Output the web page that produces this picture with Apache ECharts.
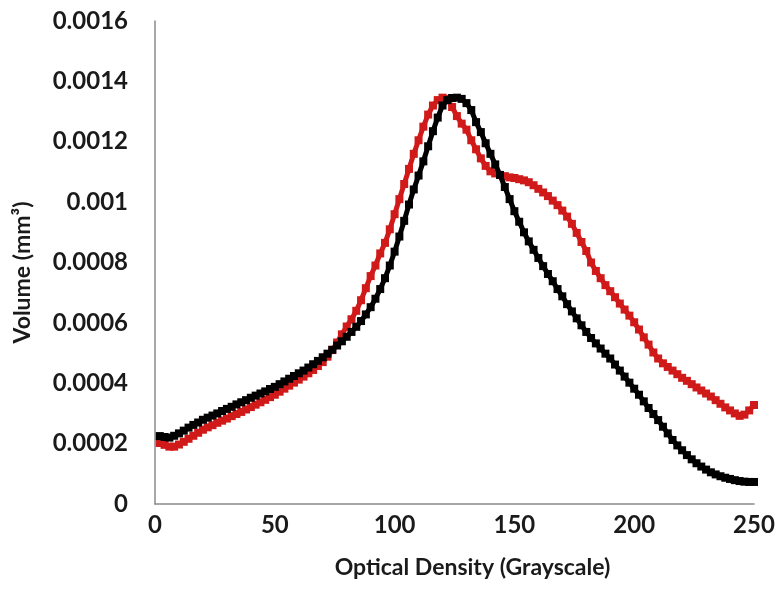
<!DOCTYPE html>
<html>
<head>
<meta charset="utf-8">
<script src="https://cdn.jsdelivr.net/npm/echarts@6/dist/echarts.min.js"></script>
<style>
html,body{margin:0;padding:0;background:#fff;}
#chart{width:781px;height:610px;}
</style>
</head>
<body>
<div id="chart"></div>
<script>
const opticalDensity = [2,4,6,8,10,12,14,16,18,20,22,24,26,28,30,32,34,36,38,40,42,44,46,48,50,52,54,56,58,60,62,64,66,68,70,72,74,76,78,80,82,84,86,88,90,92,94,96,98,100,102,104,106,108,110,112,114,116,118,120,122,124,126,128,130,132,134,136,138,140,142,144,146,148,150,152,154,156,158,160,162,164,166,168,170,172,174,176,178,180,182,184,186,188,190,192,194,196,198,200,202,204,206,208,210,212,214,216,218,220,222,224,226,228,230,232,234,236,238,240,242,244,246,248,250];

const blackVolume = [2.25e-4,2.22e-4,2.20e-4,2.26e-4,2.34e-4,2.43e-4,2.53e-4,2.62e-4,2.70e-4,2.79e-4,2.86e-4,2.93e-4,3.00e-4,3.08e-4,3.15e-4,3.22e-4,3.30e-4,3.37e-4,3.44e-4,3.52e-4,3.59e-4,3.66e-4,3.73e-4,3.81e-4,3.88e-4,3.97e-4,4.06e-4,4.15e-4,4.24e-4,4.33e-4,4.42e-4,4.52e-4,4.63e-4,4.74e-4,4.86e-4,4.98e-4,5.11e-4,5.25e-4,5.39e-4,5.54e-4,5.70e-4,5.87e-4,6.06e-4,6.28e-4,6.52e-4,6.80e-4,7.12e-4,7.48e-4,7.90e-4,8.36e-4,8.86e-4,9.38e-4,9.92e-4,10.42e-4,10.88e-4,11.35e-4,11.85e-4,12.35e-4,12.80e-4,13.20e-4,13.38e-4,13.45e-4,13.46e-4,13.42e-4,13.28e-4,13.05e-4,12.65e-4,12.32e-4,11.95e-4,11.60e-4,11.25e-4,10.90e-4,10.50e-4,10.10e-4,9.70e-4,9.35e-4,9.00e-4,8.70e-4,8.42e-4,8.15e-4,7.88e-4,7.62e-4,7.38e-4,7.12e-4,6.88e-4,6.62e-4,6.38e-4,6.15e-4,5.92e-4,5.70e-4,5.50e-4,5.32e-4,5.15e-4,4.98e-4,4.82e-4,4.62e-4,4.42e-4,4.22e-4,4.02e-4,3.82e-4,3.62e-4,3.40e-4,3.18e-4,2.98e-4,2.78e-4,2.56e-4,2.34e-4,2.12e-4,1.94e-4,1.78e-4,1.62e-4,1.48e-4,1.35e-4,1.24e-4,1.14e-4,1.05e-4,0.98e-4,0.92e-4,0.87e-4,0.83e-4,0.79e-4,0.76e-4,0.74e-4,0.73e-4,0.73e-4];

const redVolume = [2.02e-4,1.96e-4,1.90e-4,1.90e-4,1.97e-4,2.06e-4,2.16e-4,2.26e-4,2.36e-4,2.46e-4,2.54e-4,2.61e-4,2.69e-4,2.76e-4,2.83e-4,2.91e-4,2.98e-4,3.05e-4,3.13e-4,3.21e-4,3.29e-4,3.37e-4,3.45e-4,3.54e-4,3.62e-4,3.72e-4,3.82e-4,3.92e-4,4.02e-4,4.12e-4,4.22e-4,4.33e-4,4.44e-4,4.57e-4,4.70e-4,4.88e-4,5.10e-4,5.35e-4,5.62e-4,5.88e-4,6.12e-4,6.40e-4,6.75e-4,7.15e-4,7.55e-4,7.90e-4,8.30e-4,8.65e-4,9.10e-4,9.60e-4,10.10e-4,10.60e-4,11.10e-4,11.60e-4,12.05e-4,12.50e-4,12.90e-4,13.20e-4,13.38e-4,13.46e-4,13.42e-4,13.15e-4,12.85e-4,12.60e-4,12.40e-4,12.05e-4,11.75e-4,11.45e-4,11.20e-4,11.02e-4,10.95e-4,10.90e-4,10.86e-4,10.82e-4,10.80e-4,10.76e-4,10.72e-4,10.66e-4,10.56e-4,10.44e-4,10.32e-4,10.20e-4,10.05e-4,9.90e-4,9.72e-4,9.52e-4,9.28e-4,8.98e-4,8.68e-4,8.38e-4,8.00e-4,7.72e-4,7.48e-4,7.25e-4,7.05e-4,6.85e-4,6.64e-4,6.44e-4,6.24e-4,6.02e-4,5.78e-4,5.52e-4,5.28e-4,5.02e-4,4.82e-4,4.66e-4,4.54e-4,4.42e-4,4.30e-4,4.18e-4,4.08e-4,3.97e-4,3.86e-4,3.76e-4,3.66e-4,3.56e-4,3.44e-4,3.32e-4,3.20e-4,3.10e-4,3.00e-4,2.92e-4,2.96e-4,3.10e-4,3.28e-4];

const xTickValues = [0, 50, 100, 150, 200, 250];
const yTickLabels = ['0','0.0002','0.0004','0.0006','0.0008','0.001','0.0012','0.0014','0.0016'];

const xTitle = 'Optical Density (Grayscale)';
const yTitle = 'Volume (mm\u00B3)';

function pairs(xs, ys) { return xs.map((x, i) => [x, ys[i]]); }

const font = 'Lato, "Open Sans", sans-serif';
const textColor = '#1a1a1a';
const axisColor = '#8a8a8a';

const chart = echarts.init(document.getElementById('chart'), null, {renderer: 'canvas'});
chart.setOption({
  animation: false,
  backgroundColor: '#ffffff',
  grid: {left: 155, right: 27, top: 21, bottom: 106, containLabel: false},
  xAxis: {
    type: 'value', min: 0, max: 250, interval: 50,
    name: xTitle, nameLocation: 'middle', nameGap: 52,
    nameTextStyle: {fontFamily: font, fontWeight: 'bold', fontSize: 23, color: textColor, padding: [0, 0, 0, 36]},
    axisLine: {show: true, lineStyle: {color: axisColor, width: 1.5}},
    axisTick: {show: false},
    splitLine: {show: false},
    axisLabel: {fontFamily: font, fontWeight: 'bold', fontSize: 24, color: textColor, margin: 9,
      formatter: v => xTickValues.indexOf(v) >= 0 ? String(v) : ''}
  },
  yAxis: {
    type: 'value', min: 0, max: 0.0016, interval: 0.0002,
    name: yTitle, nameLocation: 'middle', nameGap: 121, nameRotate: 90,
    nameTextStyle: {fontFamily: font, fontWeight: 'bold', fontSize: 23, color: textColor, padding: [0, 20, 0, 0]},
    axisLine: {show: true, lineStyle: {color: axisColor, width: 1.5}},
    axisTick: {show: false},
    splitLine: {show: false},
    axisLabel: {fontFamily: font, fontWeight: 'bold', fontSize: 24, color: textColor, margin: 27,
      formatter: (v) => { const i = Math.round(v / 0.0002); return yTickLabels[i] !== undefined ? yTickLabels[i] : ''; }}
  },
  series: [
    {
      name: 'red', type: 'line', data: pairs(opticalDensity, redVolume),
      symbol: 'rect', symbolSize: 8, showSymbol: true, showAllSymbol: true,
      itemStyle: {color: '#d01a1a'},
      lineStyle: {color: '#d01a1a', width: 5},
      z: 2
    },
    {
      name: 'black', type: 'line', data: pairs(opticalDensity, blackVolume),
      symbol: 'rect', symbolSize: 8, showSymbol: true, showAllSymbol: true,
      itemStyle: {color: '#000000'},
      lineStyle: {color: '#000000', width: 5},
      z: 3
    }
  ]
});
</script>
</body>
</html>
